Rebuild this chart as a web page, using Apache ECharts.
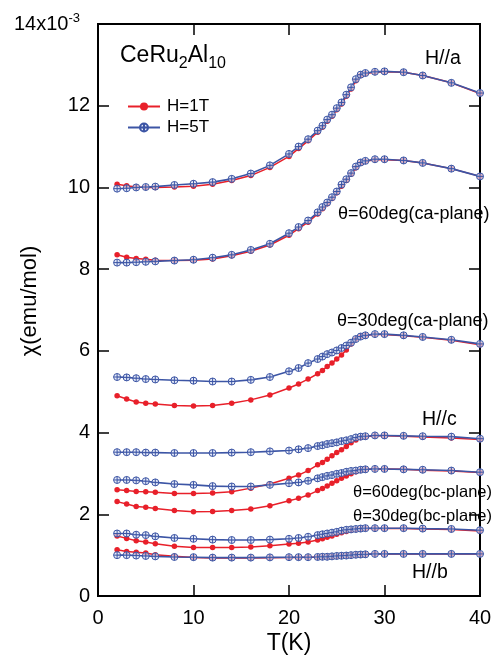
<!DOCTYPE html>
<html><head><meta charset="utf-8">
<script src="https://cdn.jsdelivr.net/npm/echarts@6/dist/echarts.min.js"></script>
<style>html,body{margin:0;padding:0;background:#fff}#c{width:500px;height:657px}</style>
</head><body><div id="c"></div>
<script>
// Temperature (K)
const temps = [2,3,4,5,6,8,10,12,14,16,18,20,21,22,23,23.5,24,24.5,25,25.5,26,26.5,27,27.5,28,29,30,32,34,37,40];
// chi in units of 1e-3 emu/mol ; "_r" = H=1T, "_b" = H=5T
const a_r   = [10.08,10.04,10.01,10.00,10.00,10.01,10.03,10.08,10.17,10.29,10.49,10.76,10.95,11.14,11.35,11.47,11.62,11.74,11.90,12.04,12.23,12.41,12.61,12.74,12.79,12.82,12.83,12.82,12.74,12.56,12.30];
const a_b   = [9.97,9.98,10.00,10.01,10.02,10.06,10.09,10.13,10.21,10.34,10.54,10.82,11.00,11.18,11.39,11.51,11.66,11.78,11.94,12.08,12.27,12.45,12.65,12.76,12.80,12.83,12.84,12.82,12.74,12.56,12.31];
const ca60_r = [8.35,8.29,8.26,8.24,8.22,8.21,8.22,8.25,8.33,8.44,8.59,8.83,8.99,9.15,9.35,9.48,9.60,9.73,9.87,10.03,10.17,10.32,10.48,10.59,10.64,10.68,10.68,10.66,10.60,10.46,10.27];
const ca60_b = [8.16,8.16,8.17,8.18,8.19,8.21,8.23,8.28,8.35,8.47,8.62,8.88,9.03,9.19,9.39,9.52,9.63,9.76,9.90,10.07,10.20,10.35,10.51,10.61,10.65,10.69,10.69,10.66,10.60,10.46,10.27];
const ca30_r = [4.90,4.82,4.75,4.72,4.70,4.66,4.65,4.66,4.72,4.80,4.92,5.09,5.19,5.31,5.44,5.52,5.62,5.70,5.80,5.90,6.02,6.17,6.29,6.35,6.38,6.40,6.40,6.37,6.33,6.26,6.15];
const ca30_b = [5.36,5.35,5.33,5.31,5.30,5.28,5.27,5.25,5.25,5.29,5.36,5.50,5.58,5.70,5.80,5.86,5.92,5.96,6.01,6.07,6.13,6.20,6.29,6.35,6.38,6.41,6.41,6.38,6.34,6.27,6.17];
const c_r   = [2.60,2.58,2.56,2.55,2.54,2.51,2.51,2.52,2.55,2.64,2.74,2.88,2.96,3.07,3.21,3.27,3.35,3.43,3.51,3.58,3.66,3.75,3.82,3.88,3.90,3.92,3.92,3.91,3.89,3.87,3.83];
const c_b   = [3.52,3.52,3.52,3.51,3.51,3.50,3.50,3.50,3.51,3.52,3.54,3.56,3.59,3.62,3.67,3.69,3.72,3.74,3.76,3.79,3.81,3.84,3.88,3.90,3.91,3.93,3.93,3.92,3.91,3.90,3.85];
const bc60_r = [2.31,2.25,2.19,2.17,2.14,2.09,2.06,2.07,2.09,2.13,2.21,2.33,2.39,2.47,2.58,2.63,2.69,2.76,2.82,2.88,2.94,2.99,3.04,3.08,3.10,3.11,3.11,3.10,3.08,3.06,3.02];
const bc60_b = [2.84,2.84,2.83,2.81,2.78,2.74,2.72,2.69,2.68,2.68,2.72,2.76,2.78,2.82,2.88,2.91,2.94,2.96,2.99,3.01,3.04,3.06,3.07,3.09,3.10,3.11,3.11,3.10,3.09,3.07,3.03];
const bc30_r = [1.47,1.41,1.35,1.32,1.28,1.22,1.19,1.19,1.19,1.20,1.23,1.27,1.29,1.32,1.37,1.40,1.44,1.47,1.51,1.55,1.58,1.61,1.63,1.64,1.65,1.65,1.65,1.65,1.64,1.63,1.59];
const bc30_b = [1.53,1.53,1.50,1.49,1.46,1.42,1.40,1.38,1.37,1.37,1.38,1.40,1.42,1.45,1.49,1.51,1.53,1.55,1.57,1.60,1.62,1.63,1.64,1.65,1.66,1.66,1.66,1.66,1.65,1.64,1.61];
const b_r   = [1.13,1.09,1.07,1.05,1.01,0.97,0.94,0.93,0.93,0.93,0.935,0.94,0.945,0.95,0.95,0.955,0.96,0.965,0.975,0.98,0.99,1.00,1.005,1.01,1.02,1.025,1.03,1.03,1.03,1.03,1.03];
const b_b   = [1.00,1.00,0.99,0.98,0.97,0.955,0.95,0.94,0.94,0.94,0.945,0.95,0.95,0.95,0.955,0.96,0.96,0.97,0.98,0.985,0.99,1.00,1.01,1.015,1.02,1.03,1.03,1.03,1.03,1.03,1.03];

const redSeries  = [a_r, ca60_r, ca30_r, c_r, bc60_r, bc30_r, b_r];
const blueSeries = [a_b, ca60_b, ca30_b, c_b, bc60_b, bc30_b, b_b];
const legendNames = ['H=1T', 'H=5T'];
const xTicks = [0, 10, 20, 30, 40];
const yTicks = [0, 2, 4, 6, 8, 10, 12, 14];
const yTopMantissa = '14x10';
const yTopExponent = '-3';
const labels = [
  {text: 'H//a', x: 425, y: 59, size: 19.5},
  {text: 'θ=60deg(ca-plane)', x: 338, y: 214, size: 18},
  {text: 'θ=30deg(ca-plane)', x: 337, y: 321, size: 18},
  {text: 'H//c', x: 422, y: 420, size: 19.5},
  {text: 'θ=60deg(bc-plane)', x: 353, y: 492, size: 16.5},
  {text: 'θ=30deg(bc-plane)', x: 353, y: 516, size: 16.5},
  {text: 'H//b', x: 412, y: 573, size: 19.5}
];

const RED = '#e8202a', BLUE = '#3c55a5';
const FONT = '"Liberation Sans", Arial, sans-serif';
const plusCircle = 'path://M0,10A10,10 0 1 0 20,10A10,10 0 1 0 0,10Z M10,0L10,20 M0,10L20,10';

const pairs = d => temps.map((t, i) => [t, d[i]]);
const series = [];
redSeries.forEach(d => series.push({
  type: 'line', name: legendNames[0], data: pairs(d),
  symbol: 'circle', symbolSize: 5.5, showAllSymbol: true,
  lineStyle: {color: RED, width: 1.5}, itemStyle: {color: RED},
  emphasis: {disabled: true}, animation: false, z: 2
}));
blueSeries.forEach(d => series.push({
  type: 'line', name: legendNames[1], data: pairs(d),
  symbol: plusCircle, symbolSize: 7, showAllSymbol: true,
  lineStyle: {color: BLUE, width: 1.6},
  itemStyle: {color: 'rgba(220,226,245,0.7)', borderColor: BLUE, borderWidth: 1},
  emphasis: {disabled: true}, animation: false, z: 3
}));

const axisCommon = {
  type: 'value', min: 0,
  axisLine: {show: true, onZero: false, lineStyle: {color: '#000', width: 2}},
  axisTick: {show: true, inside: true, length: 11, lineStyle: {color: '#000', width: 1.5}},
  splitLine: {show: false},
  minorTick: {show: false}
};

const chart = echarts.init(document.getElementById('c'), null, {renderer: 'canvas'});
chart.setOption({
  animation: false,
  backgroundColor: '#fff',
  grid: {left: 98, right: 20, top: 24, bottom: 61, containLabel: false, outerBoundsMode: 'none',
         show: true, borderColor: '#000', borderWidth: 2, backgroundColor: 'transparent'},
  xAxis: [
    Object.assign({}, axisCommon, {
      position: 'bottom', max: 40, interval: 10,
      axisLabel: {show: true, fontSize: 20, fontFamily: FONT, color: '#000', margin: 12,
        formatter: v => xTicks.includes(v) ? String(v) : ''},
      name: 'T(K)', nameLocation: 'middle', nameGap: 36, nameMoveOverlap: false,
      nameTextStyle: {fontSize: 23, fontFamily: FONT, color: '#000'}
    }),
    Object.assign({}, axisCommon, {position: 'top', max: 40, interval: 10, axisLabel: {show: false}})
  ],
  yAxis: [
    Object.assign({}, axisCommon, {
      position: 'left', max: 14, interval: 2,
      axisLabel: {show: true, fontSize: 20, fontFamily: FONT, color: '#000', margin: 8,
        formatter: v => v === yTicks[yTicks.length - 1] ? '{a|' + yTopMantissa + '}{s|' + yTopExponent + '}{p|}' : String(v),
        rich: {
          a: {fontSize: 20, fontFamily: FONT, color: '#000'},
          s: {fontSize: 13, fontFamily: FONT, color: '#000', padding: [0, 0, 12, 0]},
          p: {width: 10}
        }},
      name: 'χ(emu/mol)', nameLocation: 'middle', nameGap: 57, nameMoveOverlap: false,
      nameTextStyle: {fontSize: 22, fontFamily: FONT, color: '#000', padding: [0, 0, 0, 18]}
    }),
    Object.assign({}, axisCommon, {position: 'right', max: 14, interval: 2, axisLabel: {show: false}})
  ],
  legend: {
    data: legendNames, orient: 'vertical', left: 122, top: 93,
    itemWidth: 32, itemHeight: 10, itemGap: 4,
    textStyle: {fontSize: 17, fontFamily: FONT, color: '#000', padding: [0, 0, 0, 2]},
    selectedMode: false
  },
  graphic: [
    {type: 'text', left: 120, top: 44, silent: true,
     style: {text: '{n|CeRu}{b|2}{n|Al}{b|10}', rich: {
       n: {fontSize: 23, fontFamily: FONT, fill: '#000', verticalAlign: 'bottom', lineHeight: 22},
       b: {fontSize: 16, fontFamily: FONT, fill: '#000', verticalAlign: 'bottom', lineHeight: 16, padding: [0, 0, -5, 0]}
     }}}
  ].concat(labels.map(l => ({
    type: 'text', x: l.x, y: l.y, silent: true,
    style: {text: l.text, fontSize: l.size, fontFamily: FONT, fill: '#000', verticalAlign: 'middle', align: 'left'}
  }))),
  series: series
});
</script>
</body></html>
